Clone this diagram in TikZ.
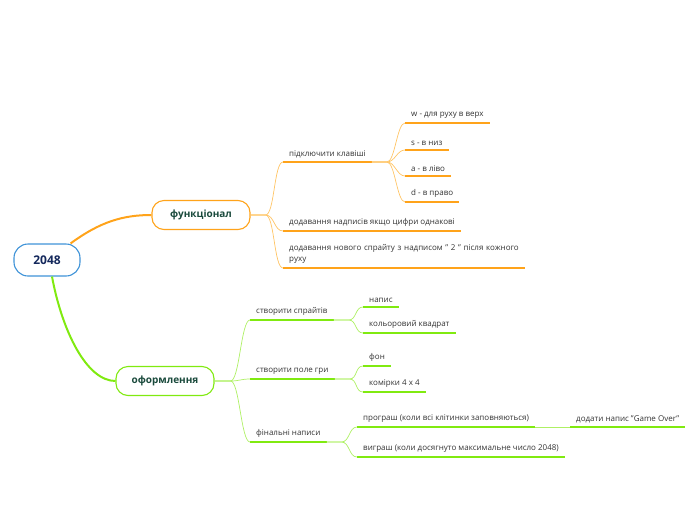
\documentclass[tikz,border=0pt]{standalone}
\usepackage{fontspec}
\setmainfont{Open Sans}
\usetikzlibrary{positioning}
\definecolor{mapblue}{HTML}{3F93D8}
\definecolor{maporange}{HTML}{FFA31A}
\definecolor{maporangelight}{HTML}{FFC566}
\definecolor{mapgreen}{HTML}{80EA10}
\definecolor{mapgreenlight}{HTML}{AEF064}
\definecolor{mapnavy}{HTML}{14285C}
\definecolor{mapdark}{HTML}{1A4A3C}
\definecolor{maptext}{HTML}{333333}

\begin{document}
\begin{tikzpicture}[x=1pt,y=-1pt, every node/.style={font=\fontsize{8}{11}\selectfont,text=maptext}]
    \tikzstyle{root}=[rounded corners=14pt,draw=mapblue,line width=1.1pt,fill=white,minimum width=66pt,minimum height=32pt,text=mapnavy,font=\bfseries\fontsize{12}{14}\selectfont]
    \tikzstyle{topic}=[rounded corners=12pt,line width=1.1pt,fill=white,minimum width=98pt,minimum height=29pt,text=mapdark,font=\bfseries\fontsize{10}{12}\selectfont]
    \tikzstyle{leaf}=[anchor=south west,inner xsep=6pt,inner ysep=4pt]
    \tikzstyle{oline}=[maporange,line width=2pt]
    \tikzstyle{gline}=[mapgreen,line width=2pt]
    \tikzstyle{obranch}=[maporangelight,line width=0.7pt]
    \tikzstyle{gbranch}=[mapgreenlight,line width=0.7pt]
    \useasboundingbox (0,0) rectangle (696,520);
    % main topics
    \node[root] (game) at (47,260) {2048};
    \node[topic,draw=maporange] (func) at (201,215) {функціонал};
    \node[topic,draw=mapgreen] (design) at (165,381) {оформлення};
    % функціонал
    \node[leaf] (keys) at (283,162) {підключити клавіші};
    \node[leaf] (up) at (405,123) {w - для руху в верх};
    \node[leaf] (down) at (405,150) {s - в низ};
    \node[leaf] (left) at (405,176) {a - в ліво};
    \node[leaf] (right) at (405,202) {d - в право};
    \node[leaf] (merge) at (283,231) {додавання надписів якщо цифри однакові};
    \node[leaf,text width=230pt,align=left] (spawn) at (283,268) {додавання нового спрайту з надписом " 2 " після кожного\\руху};
    % оформлення
    \node[leaf] (sprites) at (250,320) {створити спрайтів};
    \node[leaf] (label) at (363,307) {напис};
    \node[leaf] (square) at (363,333) {кольоровий квадрат};
    \node[leaf] (field) at (250,379) {створити поле гри};
    \node[leaf] (bg) at (363,366) {фон};
    \node[leaf] (cells) at (363,392) {комірки 4 x 4};
    \node[leaf] (final) at (250,442) {фінальні написи};
    \node[leaf] (lose) at (357,427) {програш (коли всі клітинки заповняються)};
    \node[leaf] (over) at (570,427) {додати напис "Game Over"};
    \node[leaf] (win) at (357,457) {виграш (коли досягнуто максимальне число 2048)};
    % underlines
    \foreach \n in {keys,up,down,left,right,merge,spawn}
        \draw[oline] (\n.south west) -- (\n.south east);
    \foreach \n in {sprites,label,square,field,bg,cells,final,lose,over,win}
        \draw[gline] (\n.south west) -- (\n.south east);
    % connectors
    \draw[maporange,line width=2pt] ([xshift=-10pt]game.north east) .. controls +(30,-22) and +(-28,0) .. (func.west);
    \draw[mapgreen,line width=2pt] ([xshift=5pt]game.south) .. controls +(10,54) and +(-29,0) .. (design.west);
    \foreach \b in {keys,merge,spawn}
        \draw[obranch] (func.east) -- ++(15,0) .. controls +(9,0) and +(-9,0) .. (\b.south west);
    \foreach \b in {up,down,left,right}
        \draw[obranch] (keys.south east) -- ++(15,0) .. controls +(8,0) and +(-8,0) .. (\b.south west);
    \foreach \b in {sprites,field,final}
        \draw[gbranch] (design.east) -- ++(16,0) .. controls +(9,0) and +(-9,0) .. (\b.south west);
    \foreach \a/\b in {sprites/label,sprites/square,field/bg,field/cells,final/lose,final/win}
        \draw[gbranch] (\a.south east) -- ++(15,0) .. controls +(8,0) and +(-8,0) .. (\b.south west);
    \draw[gbranch] (lose.south east) -- (over.south west);
\end{tikzpicture}
\end{document}
